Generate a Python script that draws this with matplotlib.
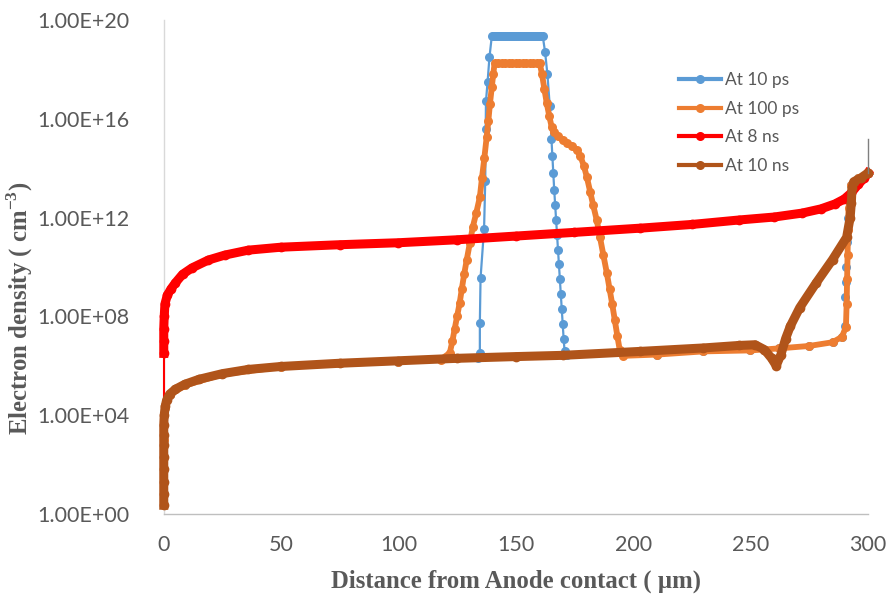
import numpy as np
import matplotlib.pyplot as plt

# Electron density profiles across the detector, values as log10(n / cm^-3)
x_10ps = [0, 0.6, 2.5, 9, 25, 50, 100, 134,
          134.7, 134.7, 135.0, 136.5, 137.0, 137.2, 137.3, 138.0, 138.8, 139.8,
          140.6, 141.4, 142.2, 143.0, 143.8, 144.6, 145.4, 146.2, 147.0, 147.8, 148.6, 149.4,
          150.2, 151.0, 151.8, 152.6, 153.4, 154.2, 155.0, 155.8, 156.6, 157.4, 158.2, 159.0,
          159.8, 160.6, 161.5,
          162.5, 163.5, 164.5, 165.2, 165.6, 166.0, 166.4, 166.8, 167.2, 167.6, 168.0, 168.4,
          168.8, 169.2, 169.6, 170.0, 170.4, 170.8, 172,
          210, 230, 250, 262, 275, 285, 289, 290.3, 290.5, 290.7, 290.9, 291.2, 291.6, 293, 296, 300]
n_10ps = [3.0, 4.3, 4.8, 5.2, 5.65, 5.95, 6.17, 6.32,
          6.5, 7.75, 9.55, 11.55, 13.5, 15.6, 16.7, 17.5, 18.5, 19.35,
          19.35, 19.35, 19.35, 19.35, 19.35, 19.35, 19.35, 19.35, 19.35, 19.35, 19.35, 19.35,
          19.35, 19.35, 19.35, 19.35, 19.35, 19.35, 19.35, 19.35, 19.35, 19.35, 19.35, 19.35,
          19.35, 19.35, 19.35,
          18.7, 17.8, 16.5, 15.2, 14.5, 13.8, 13.1, 12.5, 11.9, 11.3, 10.7, 10.1,
          9.5, 8.9, 8.3, 7.7, 7.1, 6.6, 6.42,
          6.45, 6.58, 6.62, 6.7, 6.8, 6.95, 7.17, 7.6, 8.8, 9.4, 10.0, 11.0, 12.0, 13.3, 13.6, 13.8]

x_100ps = [0, 0.6, 2.5, 9, 25, 50, 100, 118,
           121.9, 123, 124, 125, 126.1, 127, 128, 129.1, 130.4, 131.7, 133.2, 134.7, 135.6, 136.6,
           137.6, 138.3, 139, 139.8, 140.4, 141,
           142.5, 144, 145.5, 147, 148.5, 150, 151.5, 153, 154.5, 156, 157.5, 159, 160.2,
           161.2, 162.2, 163.2, 164.3, 165.3, 166.5, 168, 170, 172, 174, 176, 177.5, 179, 180.3,
           181.7, 183, 184.5, 185.9, 187.3, 188.8, 190, 191.1, 192.2, 193.3, 194.3, 195.5,
           210, 230, 250, 262, 275, 285, 289, 290.7, 291, 291.2, 291.4, 291.6, 291.8, 293, 296, 300]
n_100ps = [3.0, 4.3, 4.8, 5.2, 5.65, 5.95, 6.17, 6.25,
           6.52, 7.0, 7.5, 8.0, 8.54, 9.1, 9.7, 10.28, 10.95, 11.62, 12.2, 12.83, 13.6, 14.4,
           15.26, 15.9, 16.6, 17.29, 17.8, 18.26,
           18.26, 18.26, 18.26, 18.26, 18.26, 18.26, 18.26, 18.26, 18.26, 18.26, 18.26, 18.26, 18.26,
           17.8, 17.2, 16.64, 16.1, 15.67, 15.45, 15.3, 15.14, 15.02, 14.9, 14.74, 14.5, 14.1, 13.64,
           13.05, 12.5, 11.9, 11.2, 10.5, 9.76, 9.1, 8.5, 7.85, 7.2, 6.64, 6.4,
           6.45, 6.58, 6.62, 6.7, 6.8, 6.95, 7.17, 7.57, 8.5, 9.5, 10.5, 11.5, 12.4, 13.3, 13.6, 13.8]

x_8ns = [0, 0, 0, 0, 0, 0, 0.2, 0.5, 1.5, 3, 5, 8, 12, 19, 26, 36, 50, 75, 100, 125,
         150, 175, 203, 225, 245, 260, 272, 280, 286, 290, 293, 296, 298.5, 300]
n_8ns = [4.3, 5.2, 6.0, 6.5, 7.0, 7.5, 8.0, 8.5, 8.85, 9.1, 9.36, 9.7, 9.96, 10.28, 10.48, 10.68,
         10.8, 10.9, 10.98, 11.1, 11.25, 11.4, 11.57, 11.72, 11.9, 12.02, 12.18, 12.35, 12.55,
         12.75, 13.0, 13.35, 13.6, 13.8]

x_10ns = [0, 0, 0, 0, 0, 0, 0, 0, 0.2, 0.6, 1.2, 2.5, 5, 9, 15, 25, 36, 50, 75, 100, 125,
          150, 170, 203, 230, 245, 252, 256, 259, 261, 263, 265, 267, 271, 278, 285, 291,
          292.5, 293, 293.3, 294, 297, 300]
n_10ns = [0.35, 0.8, 1.3, 1.8, 2.3, 2.8, 3.2, 3.6, 4.0, 4.35, 4.6, 4.85, 5.05, 5.25, 5.45, 5.68,
          5.85, 5.97, 6.1, 6.2, 6.3, 6.37, 6.42, 6.58, 6.72, 6.82, 6.85, 6.65, 6.3, 6.0, 6.45,
          7.1, 7.6, 8.35, 9.35, 10.3, 11.2, 12.0, 12.6, 13.2, 13.45, 13.6, 13.8]

# thin vertical trace at the cathode end
x_edge = [300, 300]
n_edge = [13.8, 15.2]

yticks = [0, 4, 8, 12, 16, 20]
xticks = [0, 50, 100, 150, 200, 250, 300]

c_blue = '#5B9BD5'
c_orange = '#ED7D31'
c_red = '#FF0000'
c_brown = '#B0541A'
tick_col = '#595959'

fig = plt.figure(figsize=(8.9, 6.06), dpi=100)
ax = fig.add_axes([0.184, 0.152, 0.791, 0.815])

def dens(v):
    return 10.0 ** np.array(v)

ax.plot(x_10ps, dens(n_10ps), color=c_blue, lw=1.6, marker='o', ms=6.5, mew=0,
        label='At 10 ps', clip_on=False, zorder=2)
ax.plot(x_100ps, dens(n_100ps), color=c_orange, lw=4.2, marker='o', ms=6.5, mew=0,
        label='At 100 ps', clip_on=False, zorder=3)
# red: thin drop at the anode, thick band elsewhere
ax.plot(x_8ns[:4], dens(n_8ns[:4]), color=c_red, lw=1.5, clip_on=False, zorder=4)
ax.plot(x_8ns[3:], dens(n_8ns[3:]), color=c_red, lw=6.5, marker='o', ms=7, mew=0,
        label='At 8 ns', clip_on=False, zorder=4)
ax.plot(x_10ns, dens(n_10ns), color=c_brown, lw=6.5, marker='o', ms=7, mew=0,
        label='At 10 ns', clip_on=False, zorder=5)
ax.plot(x_edge, dens(n_edge), color='#7F7F7F', lw=1.0, clip_on=False, zorder=6)

ax.set_yscale('log')
ax.set_ylim(1, 1e20)
ax.set_xlim(0, 300)
ax.set_yticks([10.0 ** t for t in yticks])
ax.set_yticklabels([f"{10.0 ** t:.2E}" for t in yticks])
ax.yaxis.set_minor_locator(plt.NullLocator())
ax.set_xticks(xticks)
ax.set_xticklabels([str(t) for t in xticks])

for lab in ax.get_yticklabels() + ax.get_xticklabels():
    lab.set_fontfamily('Lato')
    lab.set_fontsize(15.5)
    lab.set_color(tick_col)
ax.tick_params(axis='y', length=0, pad=24.5)
ax.tick_params(axis='x', length=0, pad=15)

for s in ['top', 'right']:
    ax.spines[s].set_visible(False)
ax.spines['left'].set_color('#D9D9D9')
ax.spines['bottom'].set_color('#BFBFBF')
ax.spines['left'].set_linewidth(1.0)
ax.spines['bottom'].set_linewidth(1.0)

title_font = dict(family='Liberation Serif', weight='bold', size=17.8, color='#595959')
ax.set_xlabel('Distance from Anode contact ( \u00b5m)', **title_font)
ax.xaxis.set_label_coords(0.5, -0.113)
ax.set_ylabel('Electron density ( cm$^{\\mathregular{-3}}$)', **title_font)
ax.yaxis.set_label_coords(-0.183, 0.417)

leg = ax.legend(loc='upper left', bbox_to_anchor=(0.753, 0.895),
                bbox_transform=fig.transFigure, frameon=False, borderpad=0,
                handlelength=2.4, handletextpad=0.25, labelspacing=0.72,
                prop=dict(family='Lato', size=12.5))
for t in leg.get_texts():
    t.set_color(tick_col)
for h in leg.legend_handles:
    h.set_linewidth(3)
    h.set_markersize(6.5)

fig.savefig('out.png', dpi=100)
